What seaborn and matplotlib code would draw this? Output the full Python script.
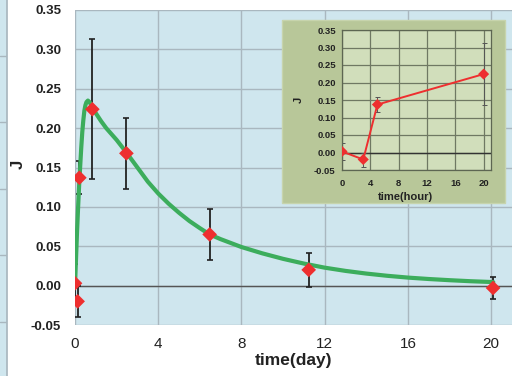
import numpy as np
import matplotlib
matplotlib.use("Agg")
import matplotlib.pyplot as plt
import seaborn as sns
from matplotlib.patches import Rectangle

sns.set_theme(style="white")
plt.rcParams['font.family'] = ['Liberation Sans', 'DejaVu Sans']
plt.rcParams['axes.unicode_minus'] = False

# measured points (time in hours for the first four, days for all)
hours = np.array([0, 3, 5, 20])
days = np.array([0, 3 / 24, 5 / 24, 20 / 24, 2.47, 6.47, 11.23, 20.09])
J = np.array([0.003, -0.020, 0.137, 0.224, 0.168, 0.065, 0.020, -0.003])
J_err = np.array([0.025, 0.020, 0.021, 0.089, 0.045, 0.032, 0.022, 0.014])

# fitted curve
curve_t = [0, 0.05, 0.1, 0.15, 0.2, 0.25, 0.3, 0.35, 0.4, 0.45, 0.5, 0.55, 0.62,
           0.7, 0.85, 1.0, 1.25, 1.5, 2.0, 2.47, 3.0, 3.5, 4.0, 4.5, 5.0, 5.5, 6.0,
           6.47, 7, 8, 9, 10, 11, 12, 13, 14, 15, 16, 17, 18, 19, 20, 20.1]
curve_J = [0, 0.035, 0.07, 0.10, 0.128, 0.152, 0.175, 0.195, 0.21, 0.222, 0.229,
           0.233, 0.235, 0.233, 0.226, 0.219, 0.209, 0.200, 0.185, 0.169, 0.150,
           0.132, 0.117, 0.104, 0.0925, 0.082, 0.073, 0.065, 0.059, 0.049, 0.041,
           0.034, 0.028, 0.0228, 0.0187, 0.0153, 0.0125, 0.0102, 0.0084, 0.0069,
           0.0056, 0.0046, 0.0045]

x_ticks = [0, 4, 8, 12, 16, 20]
y_ticks = np.round(np.arange(-0.05, 0.351, 0.05), 2)

RED = "#ee2f2f"
GREEN = "#3cad5c"
BLUE_BG = "#cfe6ee"
W, H = 515, 376

fig = plt.figure(figsize=(W / 100, H / 100), dpi=100, facecolor="white")

# cropped neighbour panel on the far left
strip = fig.add_axes([0, 0, 7 / W, 1])
strip.set_facecolor(BLUE_BG)
strip.set_xlim(0, 1)
strip.set_ylim(H, 0)
strip.set_yticks([56, 122, 189, 255, 322])
strip.set_xticks([])
strip.tick_params(left=False, labelleft=False)
strip.grid(True, axis="y", color="#a9b7bf", lw=1)
for s in ["left", "top", "bottom"]:
    strip.spines[s].set_visible(False)
strip.spines["right"].set_color("#a9b7bf")

# main panel
ax = fig.add_axes([75 / W, 1 - 325 / H, 437 / W, 315 / H])
ax.set_facecolor(BLUE_BG)
ax.set_xlim(0, 21)
ax.set_ylim(-0.05, 0.35)
ax.set_xticks(x_ticks)
ax.set_yticks(y_ticks)
ax.set_yticklabels([f"{v:.2f}" for v in y_ticks], fontsize=9.5, fontweight="bold", color="#222222")
ax.set_xticklabels([str(v) for v in x_ticks], fontsize=11, color="#222222")
ax.tick_params(axis="both", length=0)
ax.tick_params(axis="y", pad=10)
ax.tick_params(axis="x", pad=8.5)
ax.grid(True, color="#a9b7bf", lw=1)
ax.set_axisbelow(True)
for s in ax.spines.values():
    s.set_visible(False)
ax.axhline(0, color="#555555", lw=1, zorder=1)

ax.errorbar(days, J, yerr=J_err, fmt="none", ecolor="#222222", elinewidth=1.3,
            capsize=2.5, capthick=1.2, zorder=2)
sns.lineplot(x=curve_t, y=curve_J, ax=ax, color=GREEN, lw=3, sort=False,
             estimator=None, zorder=3)
sns.scatterplot(x=days, y=J, ax=ax, marker="D", s=56, color=RED,
                edgecolor="none", zorder=5)

ax.set_xlabel("time(day)", fontsize=12.5, fontweight="bold", color="#222222")
ax.xaxis.set_label_coords(0.5, -0.09)
ax.set_ylabel("J", fontsize=12, fontweight="bold", color="#222222")
ax.yaxis.set_label_coords(-0.112, 0.51)

# inset box
fig.patches.append(Rectangle((282 / W, 1 - 203 / H), 223 / W, 183 / H,
                             transform=fig.transFigure, facecolor="#b8c799",
                             edgecolor="#c7d4ad", lw=1, zorder=2))

ins = fig.add_axes([342 / W, 1 - 170 / H, 148.7 / W, 140 / H])
ins.set_zorder(3)
ins.set_facecolor("#d1debb")
ins.set_xlim(0, 21)
ins.set_ylim(-0.05, 0.35)
ins.set_xticks(x_ticks)
ins.set_yticks(y_ticks)
ins.set_yticklabels([f"{v:.2f}" for v in y_ticks], fontsize=6.8, fontweight="bold", color="#222222")
ins.set_xticklabels([str(v) for v in x_ticks], fontsize=6.8, fontweight="bold", color="#222222")
ins.tick_params(axis="both", length=2.5, width=0.8, color="#5d6652", pad=2)
ins.tick_params(axis="x", pad=4)
ins.grid(True, color="#6f7863", lw=0.9)
ins.set_axisbelow(True)
for s in ins.spines.values():
    s.set_color("#5d6652")
    s.set_linewidth(0.9)
ins.axhline(0, color="#333333", lw=1, zorder=1)

ins.errorbar(hours, J[:4], yerr=J_err[:4], fmt="none", ecolor="#555555",
             elinewidth=0.7, capsize=1.8, capthick=0.7, zorder=2)
sns.lineplot(x=hours, y=J[:4], ax=ins, color=RED, lw=1.4, sort=False,
             estimator=None, zorder=3)
sns.scatterplot(x=hours, y=J[:4], ax=ins, marker="D", s=32, color=RED,
                edgecolor="none", zorder=5)

ins.set_xlabel("time(hour)", fontsize=8, fontweight="bold", color="#222222")
ins.xaxis.set_label_coords(0.427, -0.155)
ins.set_ylabel("J", fontsize=8, fontweight="bold", color="#222222")
ins.yaxis.set_label_coords(-0.255, 0.5)

fig.savefig("out.png", dpi=100, facecolor="white")
